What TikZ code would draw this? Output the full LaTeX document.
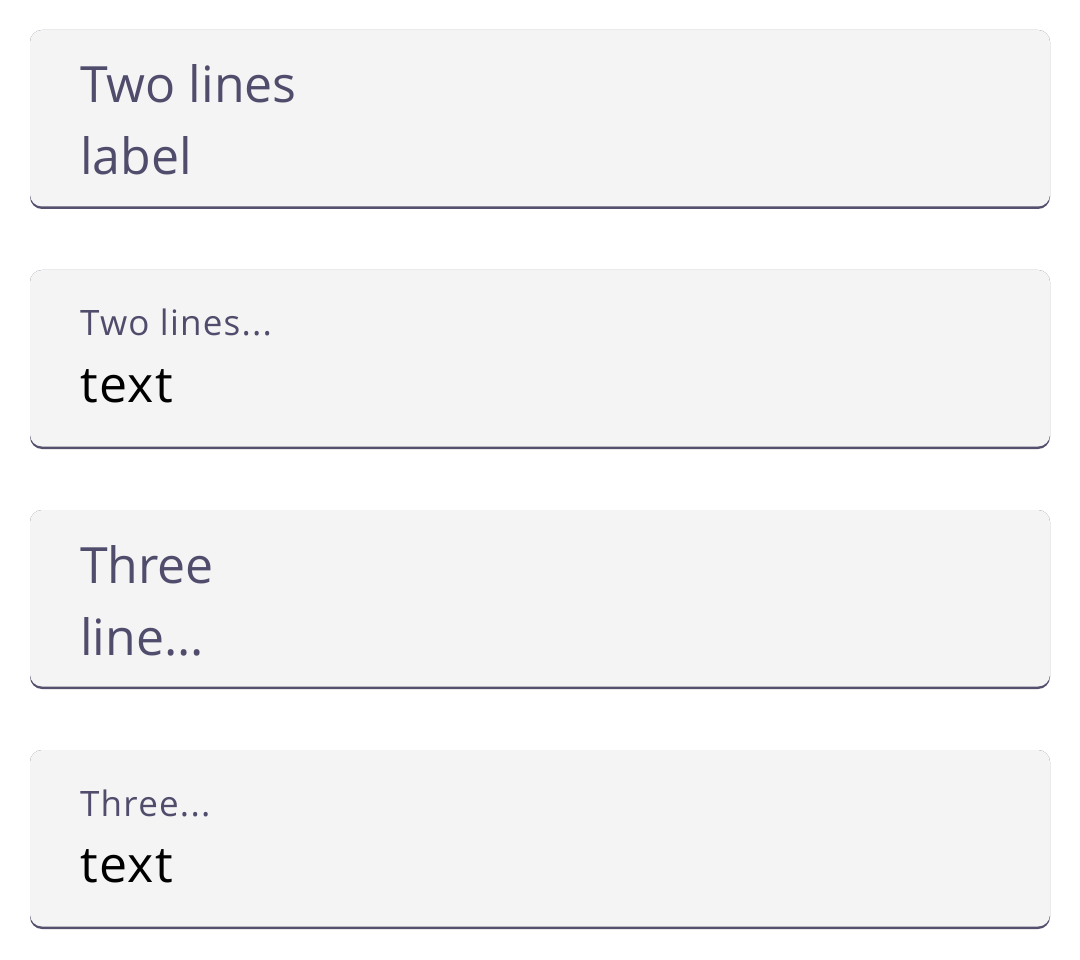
\documentclass[tikz,border=0pt]{standalone}
\usepackage{fontspec}
\setmainfont{Open Sans}
\newfontfamily\smallfam[LetterSpace=3.5]{Open Sans}
\newfontfamily\valfam[LetterSpace=3]{Open Sans}
\definecolor{boxfill}{HTML}{F4F4F4}
\definecolor{edge}{HTML}{55506E}
\definecolor{lab}{HTML}{504C6C}
\tikzset{
  bigtxt/.style={anchor=base west, inner sep=0pt, text=lab, font=\fontsize{50}{50}\selectfont},
  smalltxt/.style={anchor=base west, inner sep=0pt, text=lab, font=\smallfam\fontsize{35}{35}\selectfont},
  valtxt/.style={anchor=base west, inner sep=0pt, text=black, font=\valfam\fontsize{50}{50}\selectfont}
}
\newcommand{\fieldbox}[1]{%
  \fill[edge, rounded corners=12pt] (30,#1) rectangle (1050,#1+179);
  \fill[boxfill, rounded corners=12pt] (30,#1) rectangle (1050,#1+176.5);
}
\begin{document}
\begin{tikzpicture}[x=1pt,y=-1pt]
\fill[white] (0,0) rectangle (1080,960);
\useasboundingbox (0,0) rectangle (1080,960);
\fieldbox{30}
\fieldbox{270}
\fieldbox{510}
\fieldbox{750}
\node[bigtxt] (l1a) at (80,103) {Two lines};
\node[bigtxt] (l1b) at (80,175) {label};
\node[smalltxt] (l2) at (80,336) {Two lines...};
\node[valtxt] (v2) at (80,402) {text};
\node[bigtxt] (l3a) at (80,583) {Three};
\node[bigtxt] (l3b) at (80,655) {line...};
\node[smalltxt] (l4) at (80,816) {Three...};
\node[valtxt] (v4) at (80,882) {text};
\end{tikzpicture}
\end{document}
